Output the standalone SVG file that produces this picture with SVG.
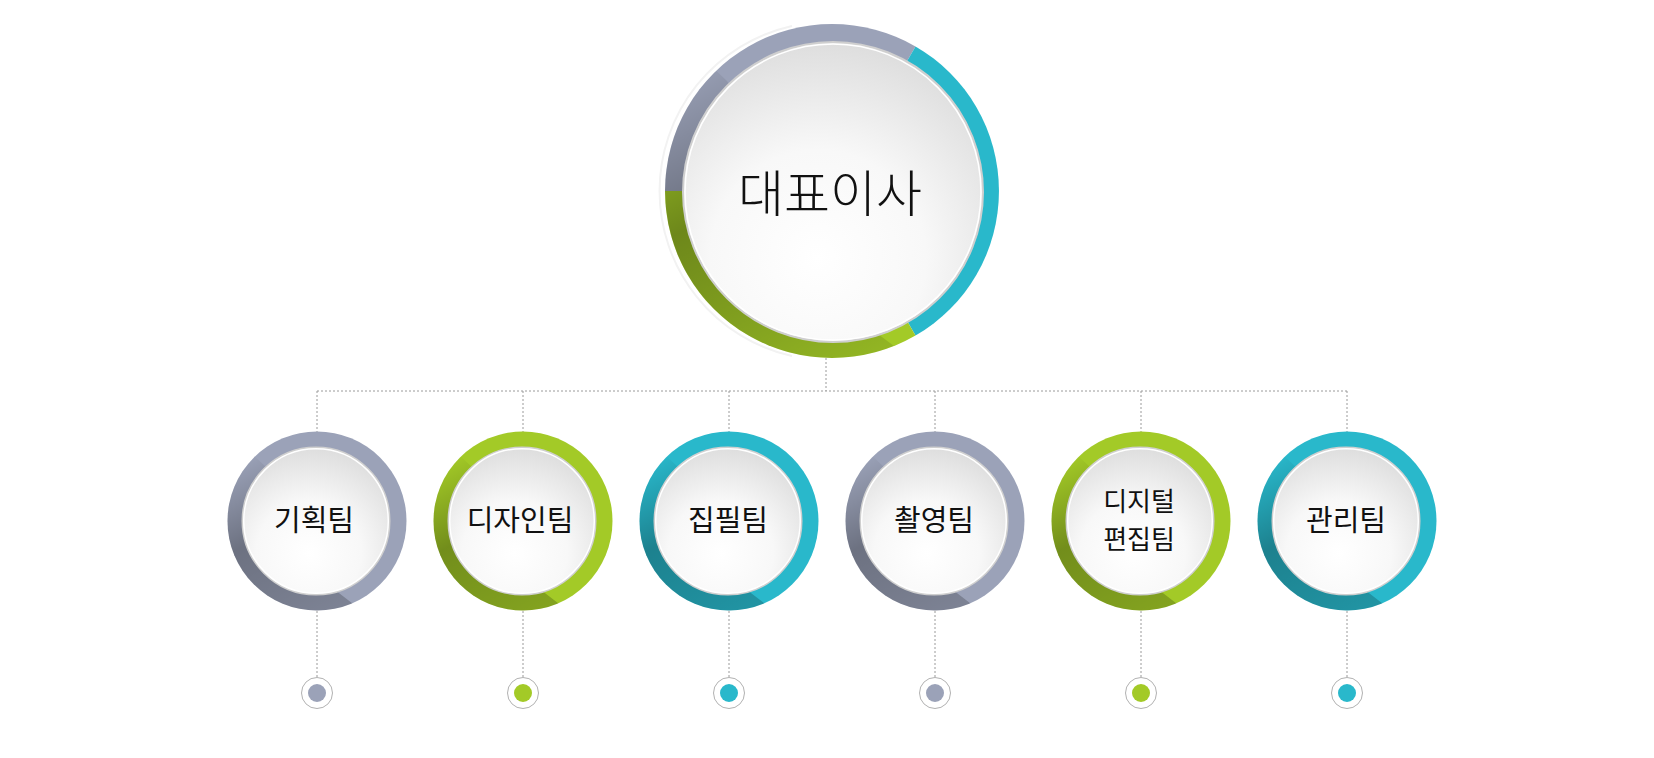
<svg xmlns="http://www.w3.org/2000/svg" width="1654" height="758" viewBox="0 0 1654 758">
  <style>
    .conn { fill: none; stroke: #9a9a9a; stroke-width: 1; stroke-dasharray: 2 2; }
    .face { fill: url(#face); }
    .rimO { fill: none; stroke: #cfcfcf; stroke-width: 2; }
    .rimI { fill: none; stroke: #ffffff; stroke-width: 1.5; }
    .lbl { font-family: "Noto Sans CJK KR", "Noto Sans", sans-serif; font-size: 29px; fill: #111; text-anchor: middle; }
    .lbl2 { font-family: "Noto Sans CJK KR", "Noto Sans", sans-serif; font-size: 26px; fill: #111; text-anchor: middle; }
    .big { font-family: "Noto Sans CJK KR", "Noto Sans", sans-serif; font-size: 50px; font-weight: 300; fill: #111; text-anchor: middle; }
    .gray { fill: #9ba2b8; }
    .teal { fill: #29b8cb; }
    .green { fill: #a3ca27; }
    .dotO { fill: #ffffff; stroke: #a8a8a8; stroke-width: 0.9; }
  </style>
  <defs>
    <radialGradient id="face" cx="0.45" cy="0.72" r="0.8">
      <stop offset="0" stop-color="#ffffff"/>
      <stop offset="0.45" stop-color="#f8f8f8"/>
      <stop offset="1" stop-color="#d8d8d8"/>
    </radialGradient>
    <linearGradient id="shS" gradientUnits="userSpaceOnUse" x1="-50" y1="-75" x2="30" y2="80">
      <stop offset="0" stop-color="#000" stop-opacity="0"/>
      <stop offset="0.45" stop-color="#000" stop-opacity="0.3"/>
      <stop offset="1" stop-color="#000" stop-opacity="0.2"/>
    </linearGradient>
    <linearGradient id="shL" gradientUnits="userSpaceOnUse" x1="-100" y1="-150" x2="60" y2="160">
      <stop offset="0" stop-color="#000" stop-opacity="0"/>
      <stop offset="0.42" stop-color="#000" stop-opacity="0.33"/>
      <stop offset="1" stop-color="#000" stop-opacity="0.1"/>
    </linearGradient>
    <clipPath id="clipS"><circle cx="0" cy="0" r="89.5"/></clipPath>
    <clipPath id="clipL"><circle cx="0" cy="0" r="167"/></clipPath>
    <path id="shadowS" d="M-50,-53 L-100,-100 L-110,-100 L-110,120 L70,120 L70,109 L18,69 Z"/>
    <path id="shadowL" d="M-105,-110 L-210,-210 L-220,-210 L-220,240 L126,240 L126,203 L46,143 Z"/>
  </defs>

  <rect width="1654" height="758" fill="#ffffff"/>

  <g id="connectors">
    <path class="conn" d="M826,358 V391"/>
    <path class="conn" d="M317,391 H1347"/>
    <path class="conn" d="M317,391 V432 M523,391 V432 M729,391 V432 M935,391 V432 M1141,391 V432 M1347,391 V432"/>
    <path class="conn" d="M317,611 V677 M523,611 V677 M729,611 V677 M935,611 V677 M1141,611 V677 M1347,611 V677"/>
  </g>

  <g id="ceo" transform="translate(832,191)">
    <path d="M-40,165 A169,169 0 0 1 -40,-165" fill="none" stroke="#f2f2f2" stroke-width="2"/>
    <path class="gray" d="M0,0 L-167,0 A167,167 0 0 1 83.5,-144.6 Z"/>
    <path class="teal" d="M0,0 L83.5,-144.6 A167,167 0 0 1 83.5,144.6 Z"/>
    <path class="green" d="M0,0 L83.5,144.6 A167,167 0 0 1 -167,0 Z"/>
    <use href="#shadowL" fill="url(#shL)" clip-path="url(#clipL)"/>
    <circle class="face" cx="1" cy="1" r="150"/>
    <circle class="rimO" cx="1" cy="1" r="150"/>
    <circle class="rimI" cx="1" cy="1" r="148"/>
    <text class="big" x="-2" y="21">대표이사</text>
  </g>

  <g id="team-planning" transform="translate(317,521)">
    <circle class="gray" r="89.5"/>
    <use href="#shadowS" fill="url(#shS)" clip-path="url(#clipS)"/>
    <circle class="face" cx="-1" r="73"/>
    <circle class="rimO" cx="-1" r="73.5" stroke-width="1"/>
    <circle class="rimI" cx="-1" r="72.3" stroke-width="1"/>
    <text class="lbl" x="-3" y="10">기획팀</text>
  </g>

  <g id="team-design" transform="translate(523,521)">
    <circle class="green" r="89.5"/>
    <use href="#shadowS" fill="url(#shS)" clip-path="url(#clipS)"/>
    <circle class="face" cx="-1" r="73"/>
    <circle class="rimO" cx="-1" r="73.5" stroke-width="1"/>
    <circle class="rimI" cx="-1" r="72.3" stroke-width="1"/>
    <text class="lbl" x="-3" y="10">디자인팀</text>
  </g>

  <g id="team-writing" transform="translate(729,521)">
    <circle class="teal" r="89.5"/>
    <use href="#shadowS" fill="url(#shS)" clip-path="url(#clipS)"/>
    <circle class="face" cx="-1" r="73"/>
    <circle class="rimO" cx="-1" r="73.5" stroke-width="1"/>
    <circle class="rimI" cx="-1" r="72.3" stroke-width="1"/>
    <text class="lbl" x="-1" y="10">집필팀</text>
  </g>

  <g id="team-filming" transform="translate(935,521)">
    <circle class="gray" r="89.5"/>
    <use href="#shadowS" fill="url(#shS)" clip-path="url(#clipS)"/>
    <circle class="face" cx="-1" r="73"/>
    <circle class="rimO" cx="-1" r="73.5" stroke-width="1"/>
    <circle class="rimI" cx="-1" r="72.3" stroke-width="1"/>
    <text class="lbl" x="-1" y="10">촬영팀</text>
  </g>

  <g id="team-digital-editing" transform="translate(1141,521)">
    <circle class="green" r="89.5"/>
    <use href="#shadowS" fill="url(#shS)" clip-path="url(#clipS)"/>
    <circle class="face" cx="-1" r="73"/>
    <circle class="rimO" cx="-1" r="73.5" stroke-width="1"/>
    <circle class="rimI" cx="-1" r="72.3" stroke-width="1"/>
    <text class="lbl2" x="-2" y="-10">디지털</text>
    <text class="lbl2" x="-2" y="28">편집팀</text>
  </g>

  <g id="team-management" transform="translate(1347,521)">
    <circle class="teal" r="89.5"/>
    <use href="#shadowS" fill="url(#shS)" clip-path="url(#clipS)"/>
    <circle class="face" cx="-1" r="73"/>
    <circle class="rimO" cx="-1" r="73.5" stroke-width="1"/>
    <circle class="rimI" cx="-1" r="72.3" stroke-width="1"/>
    <text class="lbl" x="-1" y="10">관리팀</text>
  </g>

  <g id="end-dots">
    <circle class="dotO" cx="317" cy="693" r="15.5"/><circle class="gray" cx="317" cy="693" r="9"/>
    <circle class="dotO" cx="523" cy="693" r="15.5"/><circle class="green" cx="523" cy="693" r="9"/>
    <circle class="dotO" cx="729" cy="693" r="15.5"/><circle class="teal" cx="729" cy="693" r="9"/>
    <circle class="dotO" cx="935" cy="693" r="15.5"/><circle class="gray" cx="935" cy="693" r="9"/>
    <circle class="dotO" cx="1141" cy="693" r="15.5"/><circle class="green" cx="1141" cy="693" r="9"/>
    <circle class="dotO" cx="1347" cy="693" r="15.5"/><circle class="teal" cx="1347" cy="693" r="9"/>
  </g>
</svg>
